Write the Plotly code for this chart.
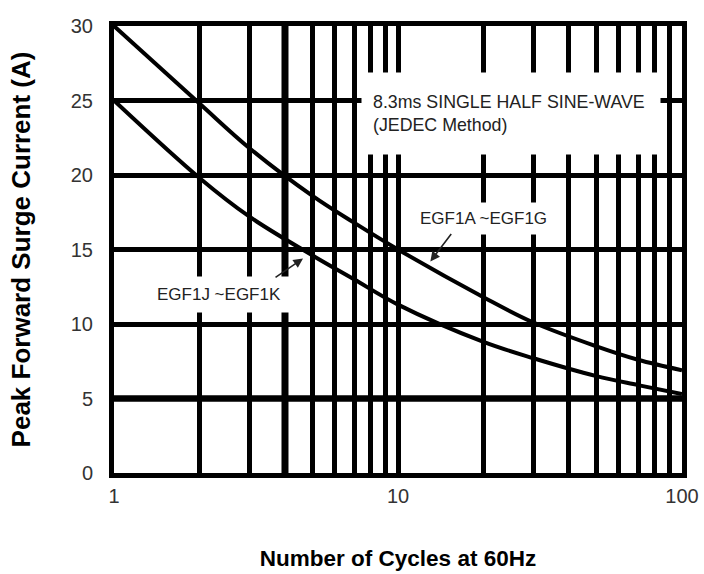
import plotly.graph_objects as go
import numpy as np

# Data
cycles = [1, 2, 3, 5, 7, 10, 20, 30, 50, 70, 100]
egf1a_g = [30, 24.8, 21.8, 18.6, 16.8, 15.0, 11.8, 10.1, 8.5, 7.6, 6.9]
egf1j_k = [25, 19.8, 17.2, 14.6, 13.0, 11.3, 8.8, 7.7, 6.5, 5.9, 5.3]

x_grid = [1, 2, 3, 4, 5, 6, 7, 8, 9, 10, 20, 30, 40, 50, 60, 70, 80, 90, 100]
x_text = ["1", "", "", "", "", "", "", "", "", "10", "", "", "", "", "", "", "", "", "100"]
y_ticks = [0, 5, 10, 15, 20, 25, 30]

FONT = "Liberation Sans, Arial, sans-serif"

fig = go.Figure()
fig.add_trace(go.Scatter(x=cycles, y=egf1a_g, mode="lines",
                         line=dict(color="black", width=4, shape="spline", smoothing=1.0),
                         showlegend=False, hoverinfo="skip"))
fig.add_trace(go.Scatter(x=cycles, y=egf1j_k, mode="lines",
                         line=dict(color="black", width=4, shape="spline", smoothing=1.0),
                         showlegend=False, hoverinfo="skip"))

# heavier grid line at x=4 and y=5
fig.add_shape(type="line", xref="x", yref="paper", x0=4, x1=4, y0=0, y1=1,
              line=dict(color="black", width=7), layer="below")
fig.add_shape(type="line", xref="paper", yref="y", x0=0, x1=1, y0=5, y1=5,
              line=dict(color="black", width=6.5), layer="below")

fig.update_xaxes(type="log", range=[0, 2], tickvals=x_grid, ticktext=x_text,
                 automargin=False,
                 showgrid=True, gridcolor="black", gridwidth=4.5,
                 showline=True, linecolor="black", linewidth=5, mirror=True,
                 ticks="outside", ticklen=1, tickcolor="rgba(0,0,0,0)",
                 tickfont=dict(family=FONT, size=20, color="#333"),
                 zeroline=False,
                 title=dict(text="<b>Number of Cycles at 60Hz</b>", standoff=46,
                            font=dict(family=FONT, size=22.5, color="black")))
fig.update_yaxes(range=[0, 30], tickvals=y_ticks,
                 automargin=False,
                 showgrid=True, gridcolor="black", gridwidth=4.5,
                 showline=True, linecolor="black", linewidth=5, mirror=True,
                 ticks="outside", ticklen=12, tickcolor="rgba(0,0,0,0)",
                 tickfont=dict(family=FONT, size=20, color="#333"),
                 zeroline=False,
                 title=dict(text="<b>Peak Forward Surge Current (A)</b>", standoff=34,
                            font=dict(family=FONT, size=26, color="black")))

ann_font = dict(family=FONT, size=17, color="#222")
fig.add_annotation(x=np.log10(24.9), y=24.1, xref="x", yref="y",
                   text="8.3ms SINGLE HALF SINE-WAVE<br>(JEDEC Method)",
                   showarrow=False, align="left", bgcolor="white",
                   width=276, height=59, borderpad=11,
                   font=dict(family=FONT, size=17.8, color="#222"))
fig.add_annotation(x=np.log10(20), y=17.05, xref="x", yref="y",
                   text="EGF1A ~EGF1G", showarrow=False, bgcolor="white",
                   borderpad=6, font=ann_font)
fig.add_annotation(x=np.log10(2.34), y=12.0, xref="x", yref="y",
                   text="EGF1J ~EGF1K", showarrow=False, bgcolor="white",
                   borderpad=8, font=ann_font)
# arrows
fig.add_annotation(x=np.log10(13.0), y=14.2, xref="x", yref="y", text="",
                   showarrow=True, ax=22, ay=-29, arrowhead=2, arrowsize=1.2,
                   arrowwidth=1.6, arrowcolor="#222")
fig.add_annotation(x=np.log10(4.63), y=14.4, xref="x", yref="y", text="",
                   showarrow=True, ax=-29, ay=20, arrowhead=2, arrowsize=1.2,
                   arrowwidth=1.6, arrowcolor="#222")

fig.update_layout(template="none", width=704, height=574,
                  margin=dict(l=114, r=22, t=26, b=101),
                  plot_bgcolor="white", paper_bgcolor="white",
                  font=dict(family=FONT))
fig.write_html("out.html", config={"displayModeBar": False},
               post_script="document.body.style.margin='0px';document.body.style.overflow='hidden';")
